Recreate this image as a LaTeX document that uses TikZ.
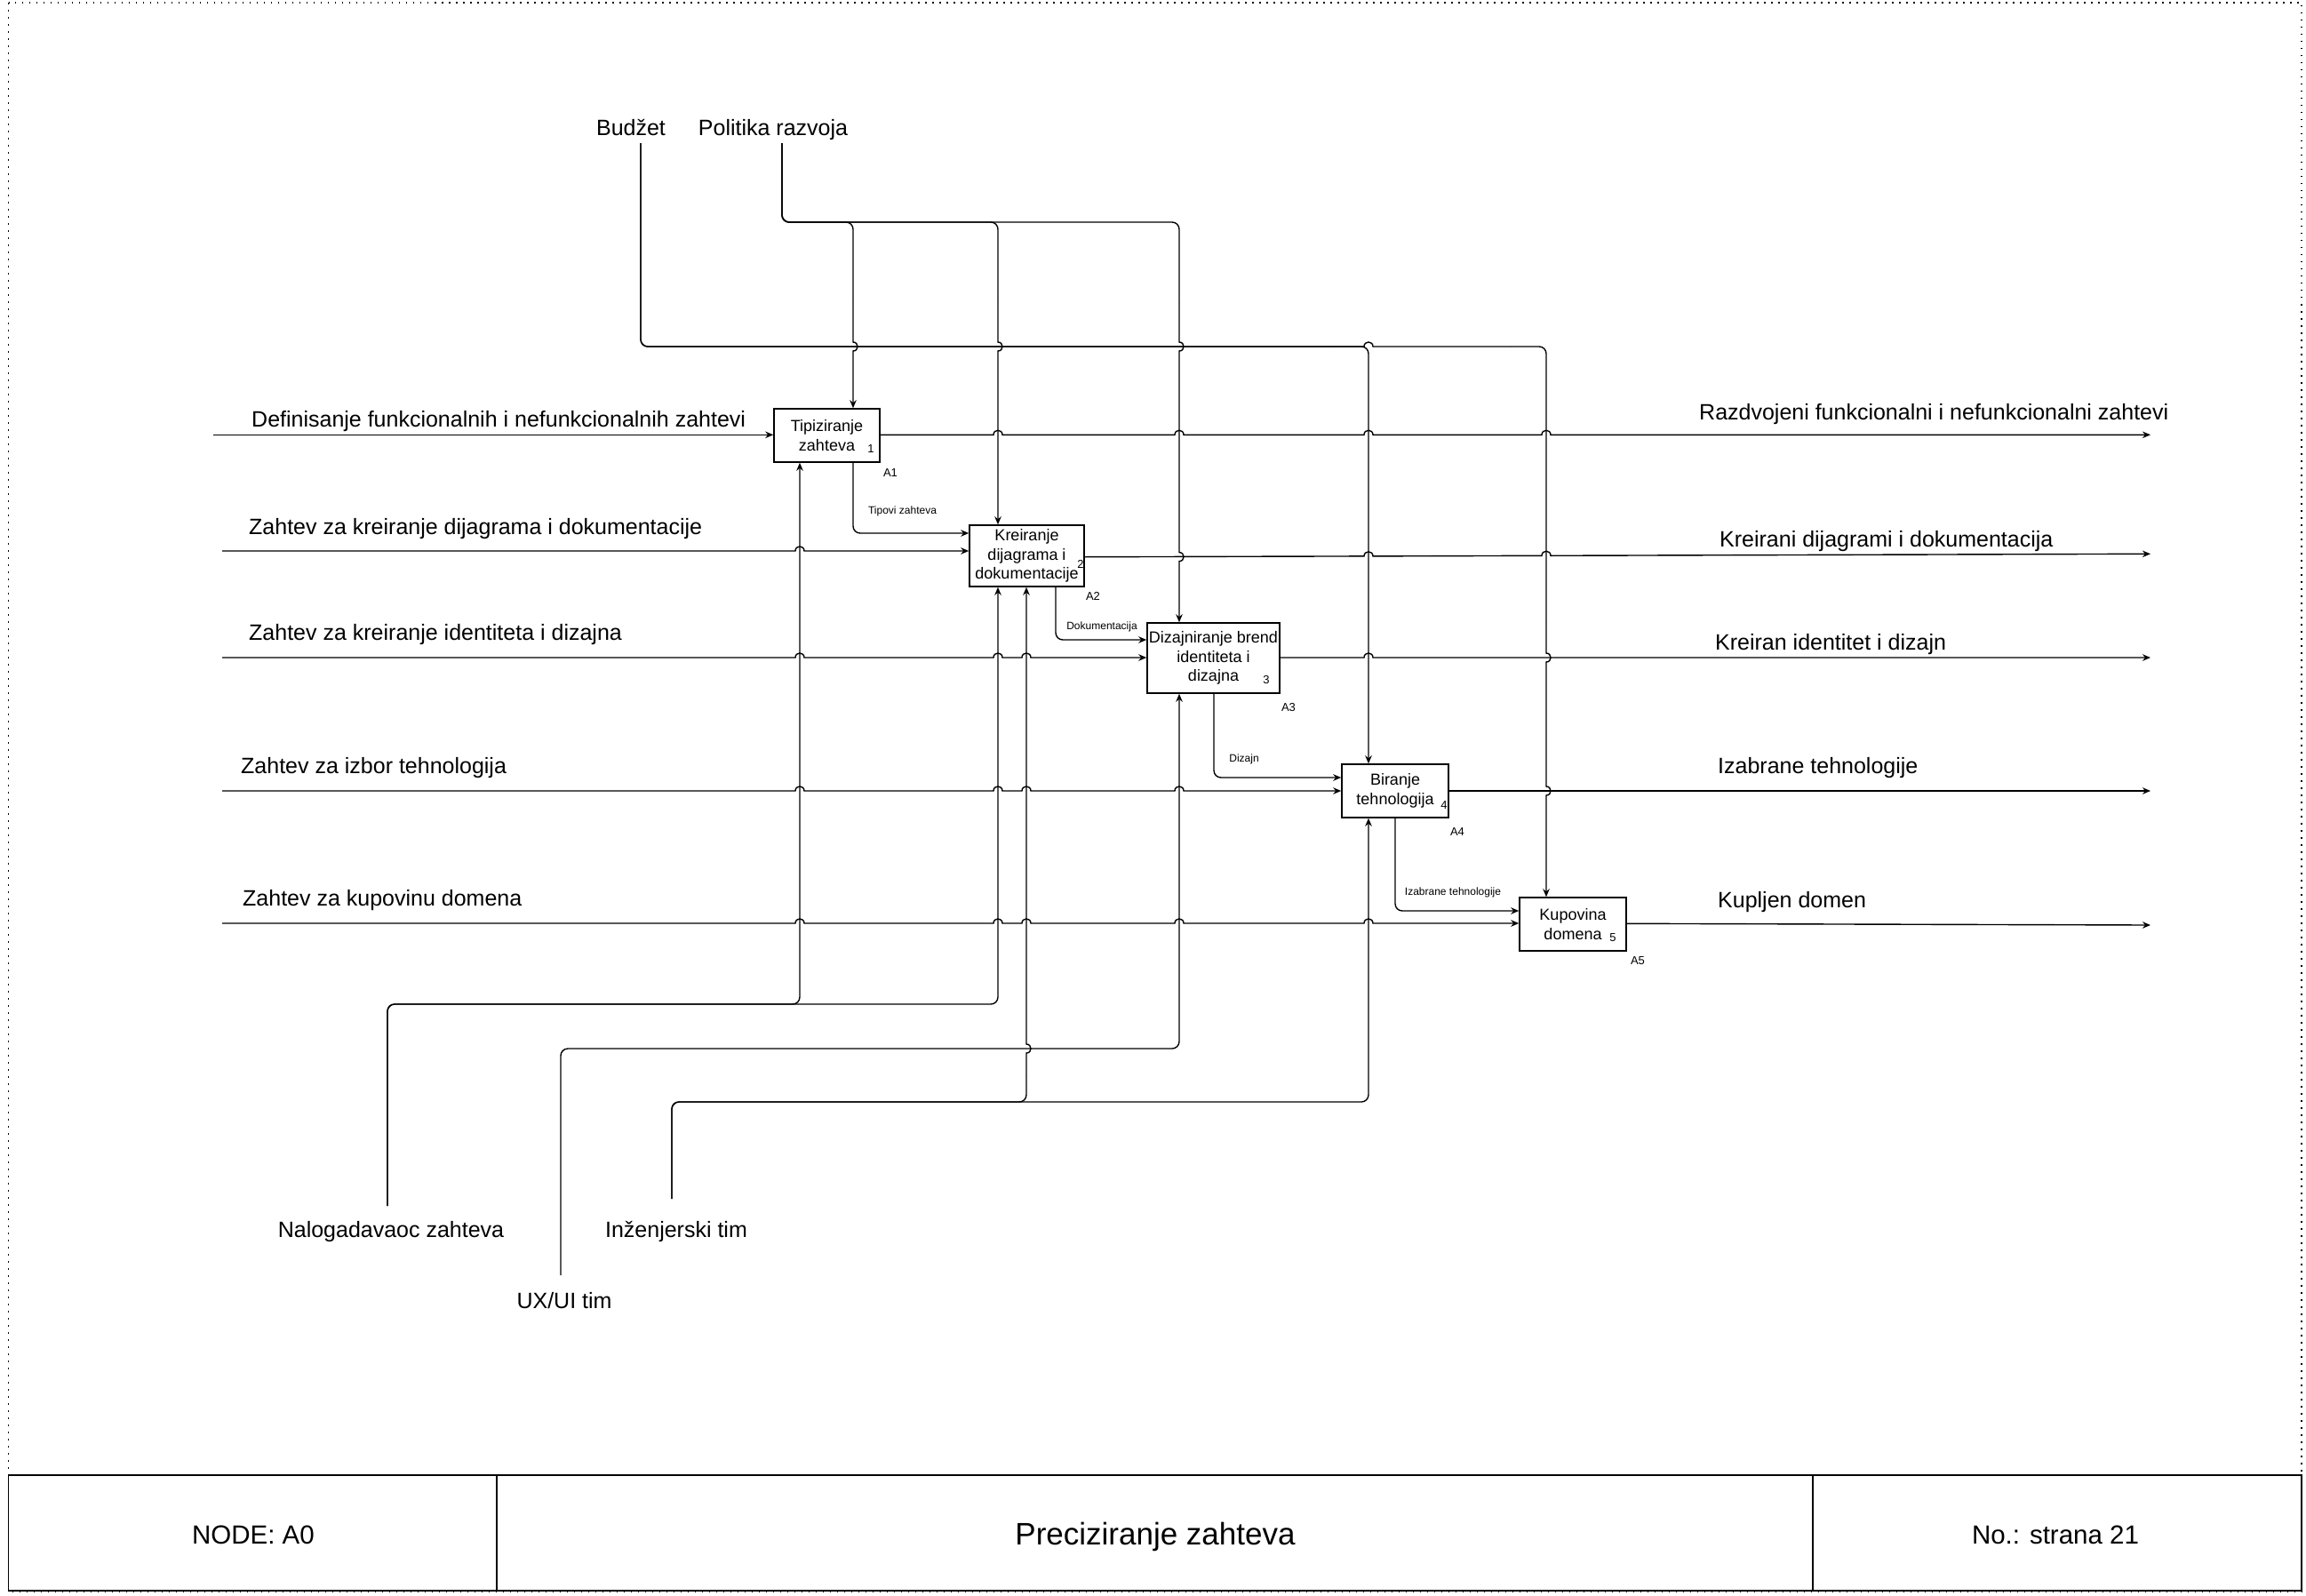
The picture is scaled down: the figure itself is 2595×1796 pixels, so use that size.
\documentclass[tikz,border=0pt]{standalone}
\usepackage{fontspec}
\setmainfont{Liberation Sans}
\usetikzlibrary{arrows.meta,calc}
% hop on a horizontal line (left to right)
\newcommand\hjmp[2]{-- (#1-5,#2) .. controls (#1-5,#2-6.7) and (#1+5,#2-6.7) .. (#1+5,#2)}
% hop on a vertical line going down / up (bulges right)
\newcommand\vjdn[2]{-- (#1,#2-5) .. controls (#1+6.7,#2-5) and (#1+6.7,#2+5) .. (#1,#2+5)}
\newcommand\vjup[2]{-- (#1,#2+5) .. controls (#1+6.7,#2+5) and (#1+6.7,#2-5) .. (#1,#2-5)}
\begin{document}
\begin{tikzpicture}[x=1pt,y=-1pt,
  ln/.style={line width=1.4pt, draw=black},
  arr/.style={ln, -{Stealth[length=9pt,width=7.5pt]}},
  rc/.style={rounded corners=8pt},
  pbox/.style={draw, line width=1.5pt, inner sep=0pt, align=center, font=\fontsize{18}{21.6}\selectfont},
  big/.style={font=\fontsize{25}{30}\selectfont, inner sep=0pt},
  sml/.style={font=\fontsize{12}{14}\selectfont, inner sep=0pt},
  num/.style={font=\fontsize{13}{15}\selectfont, inner sep=0pt},
  foot/.style={font=\fontsize{29.5}{34}\selectfont, inner sep=0pt, anchor=base},
]
\useasboundingbox (0,0) rectangle (2595,1796);
\fill[white] (0,0) rectangle (2595,1796);

% page border and title block
\draw[line width=1.4pt, dash pattern=on 1.5pt off 6.5pt] (9.5,3) rectangle (2590,1791);
\draw[line width=1.5pt] (9.5,1660) rectangle (2590,1790);
\draw[line width=1.5pt] (559,1660) -- (559,1790);
\draw[line width=1.5pt] (2040,1660) -- (2040,1790);
\node[foot] (fnode) at (285,1737) {NODE: A0};
\node[foot, font=\fontsize{35}{40}\selectfont] (ftitle) at (1300,1738.5) {Preciziranje zahteva};
\node[foot] (fno) at (2313,1737) {No.: strana 21};

% activity boxes
\node[pbox, minimum width=119pt, minimum height=60pt] (A1) at (930.5,490) {Tipiziranje\\zahteva};
\node[pbox, minimum width=129pt, minimum height=69pt] (A2) at (1155.5,625.5) {Kreiranje\\dijagrama i\\dokumentacije};
\node[pbox, minimum width=149pt, minimum height=79pt] (A3) at (1365.5,740.5) {Dizajniranje brend\\identiteta i\\dizajna};
\node[pbox, minimum width=120pt, minimum height=60pt] (A4) at (1570,890) {Biranje\\tehnologija};
\node[pbox, minimum width=120pt, minimum height=60pt] (A5) at (1770,1040) {Kupovina\\domena};

\node[num] (n1) at (980,505) {1};
\node[num] (n2) at (1216,635) {2};
\node[num] (n3) at (1425,765) {3};
\node[num] (n4) at (1625,906) {4};
\node[num] (n5) at (1815,1055) {5};
\node[num] (l1) at (1002,532) {A1};
\node[num] (l2) at (1230,671) {A2};
\node[num] (l3) at (1450,796) {A3};
\node[num] (l4) at (1640,936) {A4};
\node[num] (l5) at (1843,1081) {A5};

% texts of inputs, outputs, controls, mechanisms
\node[big, anchor=base west] (tin1) at (283,480) {Definisanje funkcionalnih i nefunkcionalnih zahtevi};
\node[big, anchor=base west] (tin2) at (280,601) {Zahtev za kreiranje dijagrama i dokumentacije};
\node[big, anchor=base west] (tin3) at (280,720) {Zahtev za kreiranje identiteta i dizajna};
\node[big, anchor=base west] (tin4) at (271,870) {Zahtev za izbor tehnologija};
\node[big, anchor=base west] (tin5) at (273,1019) {Zahtev za kupovinu domena};
\node[big, anchor=base west] (tout1) at (1912,472) {Razdvojeni funkcionalni i nefunkcionalni zahtevi};
\node[big, anchor=base west] (tout2) at (1935,615) {Kreirani dijagrami i dokumentacija};
\node[big, anchor=base west] (tout3) at (1930,731) {Kreiran identitet i dizajn};
\node[big, anchor=base west] (tout4) at (1933,870) {Izabrane tehnologije};
\node[big, anchor=base west] (tout5) at (1933,1021) {Kupljen domen};
\node[big, anchor=base] (tbud) at (710,152) {Budžet};
\node[big, anchor=base] (tpol) at (870,152) {Politika razvoja};
\node[big, anchor=base] (tnal) at (440,1392) {Nalogadavaoc zahteva};
\node[big, anchor=base] (tinz) at (761,1392) {Inženjerski tim};
\node[big, anchor=base] (tux) at (635,1472) {UX/UI tim};

\node[sml] (s1) at (1015.5,575) {Tipovi zahteva};
\node[sml] (s2) at (1240,705) {Dokumentacija};
\node[sml] (s3) at (1400,854) {Dizajn};
\node[sml] (s4) at (1635,1004) {Izabrane tehnologije};

% free ends
\coordinate (bud) at (721,161);
\coordinate (pol) at (880,161);
\coordinate (nal) at (436,1357);
\coordinate (ux) at (631,1435);
\coordinate (inz) at (756,1349);
\coordinate (i1) at (240,489.3);
\coordinate (i2) at (250,620);
\coordinate (i3) at (250,740);
\coordinate (i4) at (250,890);
\coordinate (i5) at (250,1039);
\coordinate (o1) at (2420,489.3);
\coordinate (o2) at (2420,623.3);
\coordinate (o3) at (2420,740);
\coordinate (o4) at (2420,890);
\coordinate (o5) at (2420,1041);

% inputs
\draw[arr] (i1) -- (A1.west |- i1);
\draw[arr] (i2) \hjmp{900}{620} -- (A2.west |- i2);
\draw[arr] (i3) \hjmp{900}{740} \hjmp{1123}{740} \hjmp{1155}{740} -- (A3.west |- i3);
\draw[arr] (i4) \hjmp{900}{890} \hjmp{1123}{890} \hjmp{1155}{890} \hjmp{1327}{890} -- (A4.west |- i4);
\draw[arr] (i5) \hjmp{900}{1039} \hjmp{1123}{1039} \hjmp{1155}{1039} \hjmp{1327}{1039} \hjmp{1540}{1039} -- (A5.west |- i5);

% outputs
\draw[arr] (A1.east |- o1) \hjmp{1123}{489.3} \hjmp{1327}{489.3} \hjmp{1540}{489.3} \hjmp{1740}{489.3} -- (o1);
\draw[arr] ($(A2.east)+(0,1.2)$) \hjmp{1540}{625.9} \hjmp{1740}{625.3} -- (o2);
\draw[arr] (A3.east |- o3) \hjmp{1540}{740} -- (o3);
\draw[arr] (A4.east |- o4) -- (o4);
\draw[arr] ($(A5.east)+(0,-0.7)$) -- (o5);

% internal links
\draw[arr,rc] ($(A1.south)+(29.5,0)$) |- ($(A2.west)+(0,-25.5)$);
\draw[arr,rc] ($(A2.south)+(32.5,0)$) |- ($(A3.west)+(0,-20.5)$);
\draw[arr,rc] ($(A3.south)+(0.5,0)$) |- ($(A4.west)+(0,-15)$);
\draw[arr,rc] (A4.south) |- ($(A5.west)+(0,-15)$);

% controls: Politika razvoja
\draw[ln,rc] (pol) |- (960,250) -- (960,340);
\draw[arr] (960,340) \vjdn{960}{390} -- ($(A1.north)+(29.5,0)$);
\draw[ln,rc] (pol) |- (1123,250) -- (1123,340);
\draw[arr] (1123,340) \vjdn{1123}{390} -- ($(A2.north)+(-32.5,0)$);
\draw[ln,rc] (pol) |- (1327,250) -- (1327,340);
\draw[arr] (1327,340) \vjdn{1327}{390} \vjdn{1327}{626.6} -- ($(A3.north)+(-38.5,0)$);

% controls: Budzet
\draw[arr,rc] (bud) |- (1540,390) -- ($(A4.north)+(-30,0)$);
\draw[ln,rc] (bud) |- (1500,390);
\draw[ln] (1500,390) \hjmp{1540}{390} -- (1700,390);
\draw[ln,rc] (1700,390) -- (1740,390) -- (1740,700);
\draw[arr] (1740,700) \vjdn{1740}{740} \vjdn{1740}{890} -- ($(A5.north)+(-30,0)$);

% mechanisms
\draw[arr,rc] (nal) |- (900,1130) -- ($(A1.south)+(-30.5,0)$);
\draw[arr,rc] (nal) |- (1123,1130) -- ($(A2.south)+(-32.5,0)$);
\draw[arr,rc] (ux) |- (1327,1180) -- ($(A3.south)+(-38.5,0)$);
\draw[ln,rc] (inz) |- (1155,1240) -- (1155,1210);
\draw[arr] (1155,1210) \vjup{1155}{1180} -- ($(A2.south)+(-0.5,0)$);
\draw[arr,rc] (inz) |- (1540,1240) -- ($(A4.south)+(-30,0)$);
\end{tikzpicture}
\end{document}
